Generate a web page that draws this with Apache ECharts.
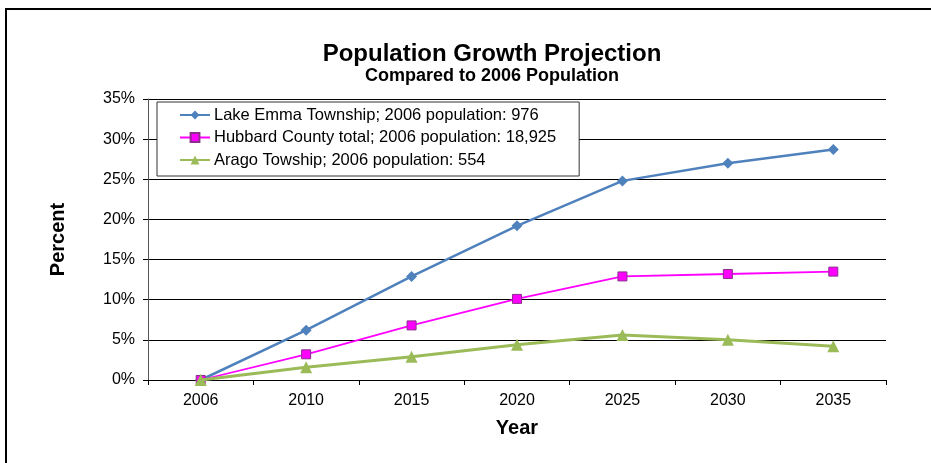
<!DOCTYPE html>
<html>
<head>
<meta charset="utf-8">
<script src="https://cdn.jsdelivr.net/npm/echarts@6/dist/echarts.min.js"></script>
<style>
  html, body { margin: 0; padding: 0; background: #fff; }
  #chart { width: 931px; height: 463px; }
</style>
</head>
<body>
<div id="chart"></div>
<script>
// Growth in percent relative to the 2006 population
const years = ['2006', '2010', '2015', '2020', '2025', '2030', '2035'];
const lakeEmma = [0, 6.2, 12.9, 19.2, 24.8, 27.0, 28.7];
const hubbard = [0, 3.2, 6.8, 10.1, 12.9, 13.2, 13.5];
const arago = [0, 1.6, 2.9, 4.4, 5.6, 5.0, 4.2];
const seriesNames = [
  'Lake Emma Township; 2006 population: 976',
  'Hubbard County total; 2006 population: 18,925',
  'Arago Towship; 2006 population: 554'
];

const font = 'Liberation Sans, Arial, sans-serif';
const chart = echarts.init(document.getElementById('chart'));

chart.setOption({
  animation: false,
  backgroundColor: '#fff',
  title: {
    text: 'Population Growth Projection',
    subtext: 'Compared to 2006 Population',
    left: 487,
    textAlign: 'center',
    top: 37,
    itemGap: 1,
    textStyle: { fontFamily: font, fontWeight: 'bold', fontSize: 24, color: '#000' },
    subtextStyle: { fontFamily: font, fontWeight: 'bold', fontSize: 18, color: '#000' }
  },
  graphic: [{
    type: 'rect',
    shape: { x: 6, y: 9, width: 940, height: 470 },
    style: { fill: 'none', stroke: '#000', lineWidth: 2 },
    silent: true
  }],
  legend: {
    orient: 'vertical',
    left: 157,
    top: 102,
    padding: [4, 23, 7, 22],
    itemGap: 4.5,
    itemWidth: 30,
    itemHeight: 11,
    borderColor: '#333',
    borderWidth: 1,
    backgroundColor: '#fff',
    textStyle: { fontFamily: font, fontSize: 16.5, lineHeight: 18, color: '#000', padding: [0, 0, 0, -1] },
    data: seriesNames
  },
  grid: { left: 148, right: 45, top: 99, bottom: 83 },
  xAxis: {
    type: 'category',
    data: years,
    boundaryGap: true,
    name: 'Year',
    nameLocation: 'middle',
    nameGap: 38,
    nameTextStyle: { fontFamily: font, fontWeight: 'bold', fontSize: 20, color: '#000' },
    axisLine: { lineStyle: { color: '#000', width: 1 } },
    axisTick: { show: true, length: 5, lineStyle: { color: '#000' } },
    axisLabel: { fontFamily: font, fontSize: 16, color: '#000', margin: 13 }
  },
  yAxis: {
    type: 'value',
    min: 0,
    max: 35,
    interval: 5,
    name: 'Percent',
    nameLocation: 'middle',
    nameGap: 80,
    nameTextStyle: { fontFamily: font, fontWeight: 'bold', fontSize: 20, color: '#000' },
    axisLine: { show: true, lineStyle: { color: '#555', width: 1 } },
    axisTick: { show: true, length: 5, lineStyle: { color: '#000' } },
    axisLabel: { fontFamily: font, fontSize: 16, color: '#000', margin: 13, formatter: '{value}%' },
    splitLine: { lineStyle: { color: '#000', width: 1 } }
  },
  series: [
    {
      name: seriesNames[0],
      type: 'line',
      data: lakeEmma,
      symbol: 'diamond',
      symbolSize: 11,
      itemStyle: { color: '#4F81BD' },
      lineStyle: { color: '#4F81BD', width: 2.5 },
      z: 3
    },
    {
      name: seriesNames[1],
      type: 'line',
      data: hubbard,
      symbol: 'rect',
      symbolSize: 9,
      itemStyle: { color: '#FF00FF', borderColor: '#8B2F8B', borderWidth: 1 },
      lineStyle: { color: '#FF00FF', width: 1.8 },
      z: 4
    },
    {
      name: seriesNames[2],
      type: 'line',
      data: arago,
      symbol: 'triangle',
      symbolSize: 12,
      itemStyle: { color: '#9BBB59' },
      lineStyle: { color: '#9BBB59', width: 3 },
      z: 5
    }
  ]
});
</script>
</body>
</html>
